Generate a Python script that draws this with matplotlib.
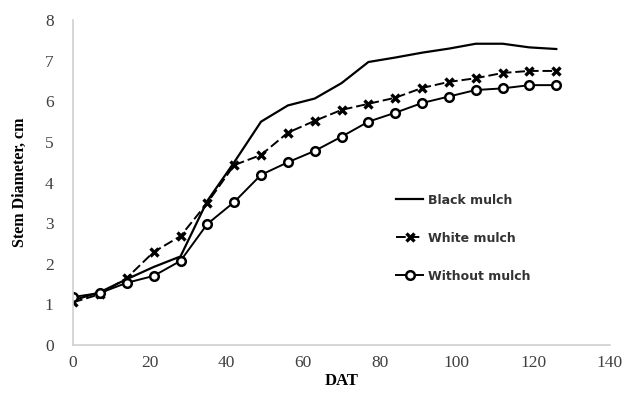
import matplotlib.pyplot as plt

dat = [0, 7, 14, 21, 28, 35, 42, 49, 56, 63, 70, 77, 84, 91, 98, 105, 112, 119, 126]
black_mulch = [1.1, 1.3, 1.62, 1.92, 2.18, 3.55, 4.5, 5.5, 5.9, 6.07, 6.45, 6.97, 7.08, 7.2, 7.3, 7.42, 7.42, 7.33, 7.29]
white_mulch = [1.05, 1.25, 1.65, 2.29, 2.68, 3.5, 4.43, 4.68, 5.23, 5.52, 5.79, 5.94, 6.09, 6.33, 6.48, 6.57, 6.7, 6.75, 6.75]
without_mulch = [1.18, 1.28, 1.53, 1.7, 2.07, 2.98, 3.52, 4.19, 4.5, 4.78, 5.13, 5.5, 5.72, 5.96, 6.12, 6.28, 6.32, 6.4, 6.4]

fig = plt.figure(figsize=(6.25, 3.96), dpi=100)
ax = fig.add_axes([0.117, 0.129, 0.859, 0.82])

ax.plot(dat, black_mulch, color='black', lw=1.6, label='Black mulch')
ax.plot(dat, white_mulch, color='black', lw=1.4, ls=(0, (5, 2)), marker='x',
        ms=5.5, mew=2.4, label='White mulch')
ax.plot(dat, without_mulch, color='black', lw=1.4, marker='o', ms=6.2,
        mfc='white', mew=1.8, label='Without mulch')

ax.set_xlim(0, 140)
ax.set_ylim(0, 8)
ax.set_xticks(range(0, 141, 20))
ax.set_yticks(range(0, 9))
for s in ['top', 'right']:
    ax.spines[s].set_visible(False)
for s in ['left', 'bottom']:
    ax.spines[s].set_color('#d0d0d0')
    ax.spines[s].set_linewidth(1.2)
ax.tick_params(length=0, labelsize=12.5, labelcolor='#404040')
ax.tick_params(axis='y', pad=14)
ax.tick_params(axis='x', pad=7)
for lab in ax.get_xticklabels() + ax.get_yticklabels():
    lab.set_family('Liberation Serif')

ax.set_xlabel('DAT', family='Liberation Serif', fontweight='bold', fontsize=12, labelpad=2)
ax.set_ylabel('Stem Diameter, cm', family='Liberation Serif', fontweight='bold', fontsize=11.5, labelpad=12)

leg = ax.legend(loc='upper left', bbox_to_anchor=(0.58, 0.50), frameon=False,
                labelspacing=2.0, handlelength=2.2, handletextpad=0.4,
                prop={'family': 'DejaVu Sans', 'weight': 'bold', 'size': 9})
for t in leg.get_texts():
    t.set_color('#333333')

fig.savefig('out.png', dpi=100)
